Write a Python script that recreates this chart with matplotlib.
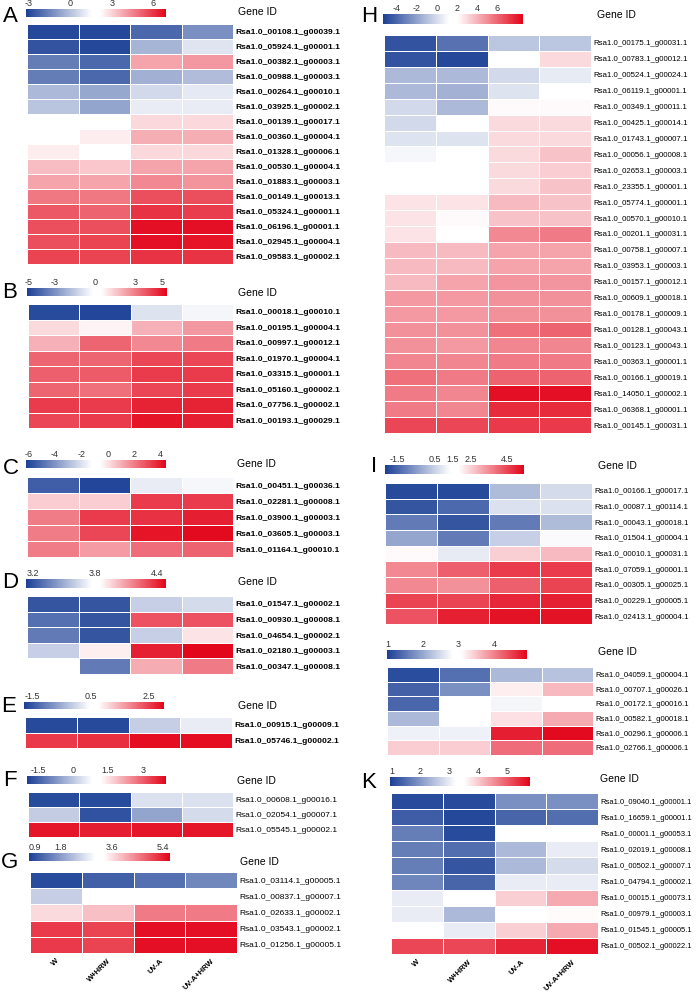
import matplotlib
matplotlib.use('Agg')
import matplotlib.pyplot as plt
from matplotlib.colors import LinearSegmentedColormap, Normalize
from matplotlib.colorbar import Colorbar
import numpy as np

plt.rcParams['font.family'] = ['Liberation Sans', 'DejaVu Sans']

W_PX, H_PX = 700, 992
treatments = ['W', 'W+HRW', 'UV-A', 'UV-A+HRW']

# ---- panel A
genes_a = ['Rsa1.0_00108.1_g00039.1', 'Rsa1.0_05924.1_g00001.1', 'Rsa1.0_00382.1_g00003.1',
           'Rsa1.0_00988.1_g00003.1', 'Rsa1.0_00264.1_g00010.1', 'Rsa1.0_03925.1_g00002.1',
           'Rsa1.0_00139.1_g00017.1', 'Rsa1.0_00360.1_g00004.1', 'Rsa1.0_01328.1_g00006.1',
           'Rsa1.0_00530.1_g00004.1', 'Rsa1.0_01883.1_g00003.1', 'Rsa1.0_00149.1_g00013.1',
           'Rsa1.0_05324.1_g00001.1', 'Rsa1.0_06196.1_g00001.1', 'Rsa1.0_02945.1_g00004.1',
           'Rsa1.0_09583.1_g00002.1']
vals_a = [[-3.0, -3.0, -2.2, -1.2], [-2.7, -3.0, -0.3, 0.9], [-1.7, -2.2, 3.9, 4.1],
          [-1.7, -2.2, -0.4, -0.1], [-0.2, -0.6, 0.6, 1.0], [0.1, -0.7, 1.1, 1.1],
          [1.9, 1.9, 2.9, 2.9], [2.0, 2.5, 3.7, 3.7], [2.5, 1.9, 2.9, 2.9],
          [3.4, 3.2, 3.9, 3.9], [3.9, 3.9, 4.4, 4.2], [4.7, 4.7, 5.5, 5.5],
          [5.3, 5.1, 6.0, 5.8], [5.5, 5.5, 6.7, 6.7], [5.5, 5.7, 6.7, 6.6],
          [5.7, 5.7, 6.0, 6.0]]
ticks_a = [-3, 0, 3, 6]

# ---- panel B
genes_b = ['Rsa1.0_00018.1_g00010.1', 'Rsa1.0_00195.1_g00004.1', 'Rsa1.0_00997.1_g00012.1',
           'Rsa1.0_01970.1_g00004.1', 'Rsa1.0_03315.1_g00001.1', 'Rsa1.0_05160.1_g00002.1',
           'Rsa1.0_07756.1_g00002.1', 'Rsa1.0_00193.1_g00029.1']
vals_b = [[-4.8, -4.9, -0.9, -0.4], [1.2, 0.7, 2.0, 2.5], [2.0, 3.5, 2.8, 3.1],
          [3.5, 3.5, 4.1, 4.1], [3.6, 3.7, 4.3, 4.3], [3.5, 3.3, 4.1, 4.3],
          [4.3, 4.3, 4.8, 4.8], [4.1, 4.3, 5.1, 4.9]]
ticks_b = [-5, -3, 0, 3, 5]

# ---- panel C
genes_c = ['Rsa1.0_00451.1_g00036.1', 'Rsa1.0_02281.1_g00008.1', 'Rsa1.0_03900.1_g00003.1',
           'Rsa1.0_03605.1_g00003.1', 'Rsa1.0_01164.1_g00010.1']
vals_c = [[-5.4, -6.0, -1.7, -1.4], [0.4, 0.4, 3.3, 3.3], [2.0, 3.3, 3.5, 3.9],
          [2.0, 3.1, 4.1, 4.3], [2.0, 1.4, 2.3, 2.5]]
ticks_c = [-6, -4, -2, 0, 2, 4]

# ---- panel D
genes_d = ['Rsa1.0_01547.1_g00002.1', 'Rsa1.0_00930.1_g00008.1', 'Rsa1.0_04654.1_g00002.1',
           'Rsa1.0_02180.1_g00003.1', 'Rsa1.0_00347.1_g00008.1']
vals_d = [[3.20, 3.20, 3.61, 3.65], [3.29, 3.20, 4.29, 4.29], [3.33, 3.20, 3.61, 3.92],
          [3.61, 3.89, 4.42, 4.48], [3.84, 3.33, 4.06, 4.19]]
ticks_d = [3.2, 3.8, 4.4]

# ---- panel E
genes_e = ['Rsa1.0_00915.1_g00009.1', 'Rsa1.0_05746.1_g00002.1']
vals_e = [[-1.65, -1.65, -0.1, 0.25], [2.54, 2.64, 2.93, 2.93]]
ticks_e = [-1.5, 0.5, 2.5]

# ---- panel F
genes_f = ['Rsa1.0_00608.1_g00016.1', 'Rsa1.0_02054.1_g00007.1', 'Rsa1.0_05545.1_g00002.1']
vals_f = [[-1.8, -1.8, 0.4, 0.4], [0.1, -1.7, -0.5, 0.3], [3.8, 3.7, 3.8, 3.8]]
ticks_f = [-1.5, 0, 1.5, 3]

# ---- panel G
genes_g = ['Rsa1.0_03114.1_g00005.1', 'Rsa1.0_00837.1_g00007.1', 'Rsa1.0_02633.1_g00002.1',
           'Rsa1.0_03543.1_g00002.1', 'Rsa1.0_01256.1_g00005.1']
vals_g = [[0.84, 1.09, 1.29, 1.58], [2.43, 3.17, 3.07, 3.12], [3.67, 3.91, 4.56, 4.56],
          [5.15, 5.05, 5.55, 5.55], [5.15, 5.05, 5.55, 5.55]]
ticks_g = [0.9, 1.8, 3.6, 5.4]

# ---- panel H
genes_h = ['Rsa1.0_00175.1_g00031.1', 'Rsa1.0_00783.1_g00012.1', 'Rsa1.0_00524.1_g00024.1',
           'Rsa1.0_06119.1_g00001.1', 'Rsa1.0_00349.1_g00011.1', 'Rsa1.0_00425.1_g00014.1',
           'Rsa1.0_01743.1_g00007.1', 'Rsa1.0_00056.1_g00008.1', 'Rsa1.0_02653.1_g00003.1',
           'Rsa1.0_23355.1_g00001.1', 'Rsa1.0_05774.1_g00001.1', 'Rsa1.0_00570.1_g00010.1',
           'Rsa1.0_00201.1_g00031.1', 'Rsa1.0_00758.1_g00007.1', 'Rsa1.0_03953.1_g00003.1',
           'Rsa1.0_00157.1_g00012.1', 'Rsa1.0_00609.1_g00018.1', 'Rsa1.0_00178.1_g00009.1',
           'Rsa1.0_00128.1_g00043.1', 'Rsa1.0_00123.1_g00043.1', 'Rsa1.0_00363.1_g00001.1',
           'Rsa1.0_00166.1_g00019.1', 'Rsa1.0_14050.1_g00002.1', 'Rsa1.0_06368.1_g00001.1',
           'Rsa1.0_00145.1_g00031.1']
vals_h = [[-4.7, -3.7, -0.8, -0.8], [-4.7, -5.1, 1.9, 3.0], [-1.2, -1.2, -0.1, 0.5],
          [-1.2, -1.5, 0.2, 1.2], [-0.1, -1.2, 2.2, 2.2], [-0.1, 1.2, 3.0, 3.0],
          [0.2, 0.2, 3.0, 3.0], [0.9, 1.6, 3.0, 3.6], [1.6, 2.0, 3.0, 3.3],
          [1.6, 1.6, 3.0, 3.6], [2.7, 2.7, 3.8, 3.6], [2.7, 2.2, 3.6, 3.6],
          [2.7, 2.0, 5.1, 5.5], [3.8, 3.8, 4.4, 4.4], [3.8, 3.8, 4.4, 4.4],
          [3.8, 4.4, 4.8, 4.8], [4.7, 4.7, 4.9, 4.9], [4.7, 4.7, 4.9, 4.9],
          [4.9, 4.9, 5.8, 6.1], [4.9, 4.7, 5.2, 5.2], [5.2, 5.2, 5.5, 5.5],
          [5.8, 5.5, 6.1, 6.1], [5.5, 5.2, 8.3, 8.3], [5.5, 5.2, 7.6, 7.6],
          [6.9, 6.9, 7.2, 7.2]]
ticks_h = [-4, -2, 0, 2, 4, 6]

# ---- panel I
genes_i = ['Rsa1.0_00166.1_g00017.1', 'Rsa1.0_00087.1_g00114.1', 'Rsa1.0_00043.1_g00018.1',
           'Rsa1.0_01504.1_g00004.1', 'Rsa1.0_00010.1_g00031.1', 'Rsa1.0_07059.1_g00001.1',
           'Rsa1.0_00305.1_g00025.1', 'Rsa1.0_00229.1_g00005.1', 'Rsa1.0_02413.1_g00004.1']
vals_i = [[-2.0, -2.0, 0.1, 0.7], [-1.8, -1.4, 0.8, 0.8], [-1.1, -1.8, -1.1, 0.1],
          [-0.3, -1.1, 0.5, 1.3], [1.9, 1.0, 2.5, 2.8], [3.5, 4.1, 4.6, 4.6],
          [3.5, 3.4, 4.1, 4.5], [4.5, 4.5, 4.9, 5.0], [4.3, 5.0, 5.2, 5.2]]
ticks_i = [-1.5, 0.5, 1.5, 2.5, 4.5]

# ---- panel J (unlabelled, below I)
genes_j = ['Rsa1.0_04059.1_g00004.1', 'Rsa1.0_00707.1_g00026.1', 'Rsa1.0_00172.1_g00016.1',
           'Rsa1.0_00582.1_g00018.1', 'Rsa1.0_00296.1_g00006.1', 'Rsa1.0_02766.1_g00006.1']
vals_j = [[1.1, 1.45, 2.15, 2.25], [1.3, 1.75, 3.2, 3.6], [1.35, 2.95, 2.75, 2.95],
          [2.15, 2.95, 3.3, 3.7], [2.7, 2.7, 4.75, 4.9], [3.45, 3.45, 4.15, 4.15]]
ticks_j = [1, 2, 3, 4]

# ---- panel K
genes_k = ['Rsa1.0_09040.1_g00001.1', 'Rsa1.0_16659.1_g00001.1', 'Rsa1.0_00001.1_g00053.1',
           'Rsa1.0_02019.1_g00008.1', 'Rsa1.0_00502.1_g00007.1', 'Rsa1.0_04794.1_g00002.1',
           'Rsa1.0_00015.1_g00073.1', 'Rsa1.0_00979.1_g00003.1', 'Rsa1.0_01545.1_g00005.1',
           'Rsa1.0_00502.1_g00022.1']
vals_k = [[1.1, 1.1, 1.9, 1.9], [1.3, 1.05, 1.4, 1.5], [1.7, 1.1, 3.3, 3.37],
          [1.7, 1.5, 2.4, 3.0], [1.7, 1.2, 2.4, 2.8], [1.8, 1.4, 3.0, 3.0],
          [3.0, 3.37, 3.95, 4.3], [3.0, 2.4, 3.37, 3.55], [3.37, 3.0, 3.95, 4.3],
          [5.2, 5.2, 5.5, 5.7]]
ticks_k = [1, 2, 3, 4, 5]

cmap = LinearSegmentedColormap.from_list(
    'bwr_gap', [(0, '#1c4096'), (0.47, '#ffffff'), (0.53, '#ffffff'), (1, '#e3051a')])

fig = plt.figure(figsize=(7, 9.92), dpi=100)


def px_axes(x0, y0, x1, y1):
    return fig.add_axes([x0 / W_PX, 1 - y1 / H_PX, (x1 - x0) / W_PX, (y1 - y0) / H_PX])


def panel(letter, genes, vals, ticks, vmin, vmax, heat, cbar, letter_xy, gene_xy,
          bold=False, xlabels=False, lab_size=5.7):
    norm = Normalize(vmin=vmin, vmax=vmax)
    ax = px_axes(*heat)
    data = np.array(vals)
    ax.pcolormesh(data, cmap=cmap, norm=norm, edgecolors='white', linewidth=0.6)
    ax.set_xlim(0, data.shape[1])
    ax.set_ylim(data.shape[0], 0)
    for s in ax.spines.values():
        s.set_visible(False)
    ax.yaxis.tick_right()
    ax.set_yticks(np.arange(len(genes)) + 0.5)
    ax.set_yticklabels(genes, fontsize=6.1 if bold else lab_size,
                       fontweight='bold' if bold else 'normal')
    ax.tick_params(axis='y', length=0, pad=2)
    if xlabels:
        ax.set_xticks(np.arange(4) + 0.5)
        ax.set_xticklabels(treatments, rotation=45, ha='right', va='top',
                           rotation_mode='anchor', fontsize=5.5, fontweight='bold')
        ax.tick_params(axis='x', length=0, pad=3)
    else:
        ax.set_xticks([])

    cax = px_axes(*cbar)
    cb = Colorbar(cax, cmap=cmap, norm=norm, orientation='horizontal', ticks=ticks)
    cb.outline.set_visible(False)
    cax.xaxis.set_ticks_position('top')
    cax.set_xticklabels([f'{t:g}' for t in ticks], fontsize=6.5, color='#333333')
    cax.tick_params(axis='x', length=0, pad=1)

    if letter:
        fig.text(letter_xy[0] / W_PX, 1 - letter_xy[1] / H_PX, letter, fontsize=16,
                 ha='center', va='center')
    fig.text(gene_xy[0] / W_PX, 1 - gene_xy[1] / H_PX, 'Gene ID', fontsize=7.5,
             ha='left', va='center')


panel('A', genes_a, vals_a, ticks_a, -3.2, 6.9, (27, 24, 233, 264), (26, 9, 166, 17),
      (10, 16), (238, 12), bold=True)
panel('B', genes_b, vals_b, ticks_b, -5.1, 5.4, (28, 304, 233, 428), (27, 288, 167, 296),
      (10, 293), (238, 293), bold=True)
panel('C', genes_c, vals_c, ticks_c, -6.2, 4.4, (27, 477, 233, 557), (26, 460, 166, 468),
      (11, 468), (237, 464), bold=True)
panel('D', genes_d, vals_d, ticks_d, 3.13, 4.49, (27, 596, 233, 674), (26, 579, 166, 588),
      (10, 583), (238, 582), bold=True)
panel('E', genes_e, vals_e, ticks_e, -1.78, 3.02, (25, 717, 232, 748), (24, 702, 164, 709),
      (9, 706), (238, 706), bold=True)
panel('F', genes_f, vals_f, ticks_f, -1.97, 4.0, (28, 792, 233, 837), (27, 776, 166, 784),
      (10, 781), (237, 781), lab_size=6.0)
panel('G', genes_g, vals_g, ticks_g, 0.69, 5.65, (30, 872, 237, 953), (29, 853, 170, 861),
      (10, 862), (240, 862), xlabels=True, lab_size=6.0)
panel('H', genes_h, vals_h, ticks_h, -5.4, 8.6, (384, 35, 591, 433), (383, 14, 523, 24),
      (369, 16), (597, 15))
panel('I', genes_i, vals_i, ticks_i, -2.2, 5.4, (385, 483, 592, 624), (385, 465, 524, 474),
      (374, 467), (598, 466))
panel('', genes_j, vals_j, ticks_j, 0.97, 4.94, (387, 667, 593, 755), (387, 650, 527, 659),
      None, (598, 652), lab_size=5.6)
panel('K', genes_k, vals_k, ticks_k, 0.95, 5.8, (391, 793, 598, 954), (390, 777, 530, 786),
      (369, 782), (600, 779), xlabels=True, lab_size=5.5)

fig.savefig('out.png', dpi=100)
